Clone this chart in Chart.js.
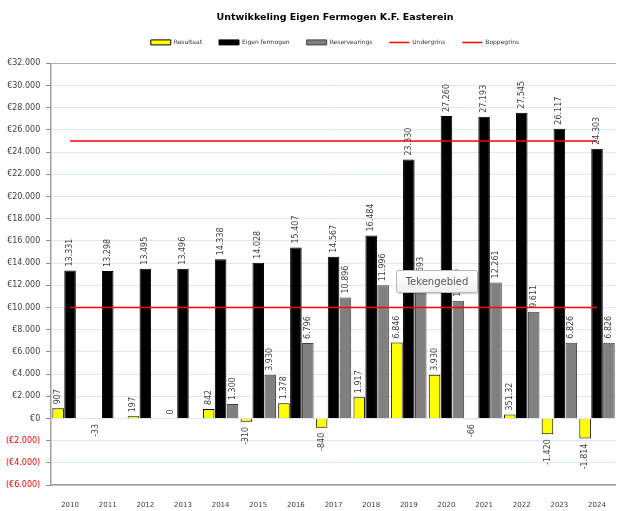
<!DOCTYPE html>
<html>
<head>
<meta charset="utf-8">
<script src="https://cdn.jsdelivr.net/npm/chart.js@4/dist/chart.umd.min.js"></script>
<style>
	body { margin: 0; background: #fff; }
	#wrap { position: relative; width: 622px; height: 511px; }
	#tip {
		position: absolute; left: 396px; top: 270px; width: 80px; height: 21px;
		border: 1px solid #b8b8b8; border-radius: 3px; background: linear-gradient(#fff, #eef0f3);
		font: 10px "DejaVu Sans", sans-serif; color: #555; line-height: 21px; text-align: center;
		box-shadow: 1px 1px 2px rgba(0,0,0,0.2);
	}
</style>
</head>
<body>
<div id="wrap">
	<canvas id="chartFermogen"></canvas>
	<div id="tip">Tekengebied</div>
</div>
<script>
var years = ['2010', '2011', '2012', '2013', '2014', '2015', '2016', '2017', '2018', '2019', '2020', '2021', '2022', '2023', '2024'];
var resultaat = [907, -33, 197, 0, 842, -310, 1378, -840, 1917, 6846, 3930, -66, 351.32, -1420, -1814];
var eigenFermogen = [13331, 13298, 13495, 13496, 14338, 14028, 15407, 14567, 16484, 23330, 27260, 27193, 27545, 26117, 24303];
var reservearings = [null, null, null, null, 1300, 3930, 6796, 10896, 11996, 11693, 10600, 12261, 9611, 6826, 6826];
var undergrins = [10000, 10000, 10000, 10000, 10000, 10000, 10000, 10000, 10000, 10000, 10000, 10000, 10000, 10000, 10000];
var boppegrins = [25000, 25000, 25000, 25000, 25000, 25000, 25000, 25000, 25000, 25000, 25000, 25000, 25000, 25000, 25000];

var FONT = '"DejaVu Sans", sans-serif';

// thousands with dots, leaves decimals as they are
function fmt(v) {
	if (!Number.isInteger(v)) return String(v);
	var s = String(Math.abs(v)).replace(/\B(?=(\d{3})+(?!\d))/g, '.');
	return (v < 0 ? '-' : '') + s;
}

// shift a box (title / legend) sideways so it centres over the plot
function shiftDraw(box, dx) {
	if (!box) return;
	var draw = box.draw;
	box.draw = function() {
		this.ctx.save();
		this.ctx.translate(dx, 0);
		draw.apply(this, arguments);
		this.ctx.restore();
	};
}

// rotated value labels on the bars
var barLabels = {
	id: 'barLabels',
	beforeInit: function(chart) {
		var legend = chart.legend;
		if (legend) {
			var fit = legend.fit;
			legend.fit = function() {
				fit.call(this);
				this.height += 8;
			};
		}
		shiftDraw(chart.legend, 25);
		shiftDraw(chart.titleBlock, 25);
	},
	afterDatasetsDraw: function(chart) {
		var ctx = chart.ctx;
		ctx.save();
		ctx.font = '8px ' + FONT;
		ctx.fillStyle = '#404040';
		ctx.textBaseline = 'middle';
		chart.data.datasets.forEach(function(ds, i) {
			if (ds.type === 'line') return;
			var meta = chart.getDatasetMeta(i);
			meta.data.forEach(function(el, j) {
				var v = ds.data[j];
				if (v === null) return;
				ctx.save();
				if (v >= 0) {
					ctx.translate(el.x, el.y - 4);
					ctx.textAlign = 'left';
				} else {
					ctx.translate(el.x, el.y + 5);
					ctx.textAlign = 'right';
				}
				ctx.rotate(-Math.PI / 2);
				ctx.fillText(fmt(v), 0, 0);
				ctx.restore();
			});
		});
		ctx.restore();
	}
};

var ctx = document.getElementById('chartFermogen').getContext('2d');
new Chart(ctx, {
	type: 'bar',
	data: {
		labels: years,
		datasets: [{
			label: 'Resultaat',
			data: resultaat,
			backgroundColor: '#ffff00',
			borderColor: '#000000',
			borderWidth: 1,
			pointStyle: 'rect',
			order: 2
		}, {
			label: 'Eigen fermogen',
			data: eigenFermogen,
			backgroundColor: '#000000',
			borderColor: '#000000',
			borderWidth: 1,
			pointStyle: 'rect',
			order: 2
		}, {
			label: 'Reservearings',
			data: reservearings,
			backgroundColor: '#808080',
			borderColor: '#404040',
			borderWidth: 1,
			pointStyle: 'rect',
			order: 2
		}, {
			type: 'line',
			label: 'Undergrins',
			data: undergrins,
			borderColor: '#ff0000',
			backgroundColor: '#ff0000',
			borderWidth: 1.5,
			pointRadius: 0,
			pointStyle: 'line',
			order: 1
		}, {
			type: 'line',
			label: 'Boppegrins',
			data: boppegrins,
			borderColor: '#ff0000',
			backgroundColor: '#ff0000',
			borderWidth: 1.5,
			pointRadius: 0,
			pointStyle: 'line',
			order: 1
		}]
	},
	options: {
		responsive: true,
		maintainAspectRatio: false,
		animation: false,
		layout: {
			padding: { left: 0, right: 2, top: 0, bottom: 0 }
		},
		datasets: {
			bar: {
				categoryPercentage: 0.95,
				barPercentage: 0.97
			}
		},
		plugins: {
			tooltip: { enabled: false },
			title: {
				display: true,
				text: 'Untwikkeling Eigen Fermogen K.F. Easterein',
				color: '#000',
				font: { family: FONT, size: 9.5, weight: 'bold' },
				padding: { top: 12, bottom: -1 }
			},
			legend: {
				display: true,
				position: 'top',
				labels: {
					usePointStyle: true,
					pointStyleWidth: 20,
					boxHeight: 5,
					padding: 17,
					color: '#333',
					font: { family: FONT, size: 6 },
					sort: function(a, b) { return a.datasetIndex - b.datasetIndex; }
				}
			}
		},
		scales: {
			y: {
				min: -6000,
				max: 32000,
				ticks: {
					stepSize: 2000,
					padding: 6,
					font: { family: FONT, size: 8 },
					color: function(c) {
						return c.tick.value < 0 ? '#ff0000' : '#404040';
					},
					callback: function(v) {
						if (v === 0) return '€0';
						if (v < 0) return '(€' + fmt(-v) + ')';
						return '€' + fmt(v);
					}
				},
				grid: {
					color: function(c) {
						return c.tick && c.tick.value === 32000 ? '#b0b0b0' : '#dde7f5';
					},
					tickLength: 5,
					tickColor: '#808080'
				},
				border: { color: '#a0a0a0', width: 1.5 }
			},
			x: {
				afterFit: function(scale) {
					scale.height = 26;
				},
				ticks: {
					padding: 16,
					color: '#404040',
					font: { family: FONT, size: 7 }
				},
				grid: { display: false, drawTicks: false },
				border: { color: '#a0a0a0', width: 1.5 }
			}
		}
	},
	plugins: [barLabels]
});
</script>
</body>
</html>
